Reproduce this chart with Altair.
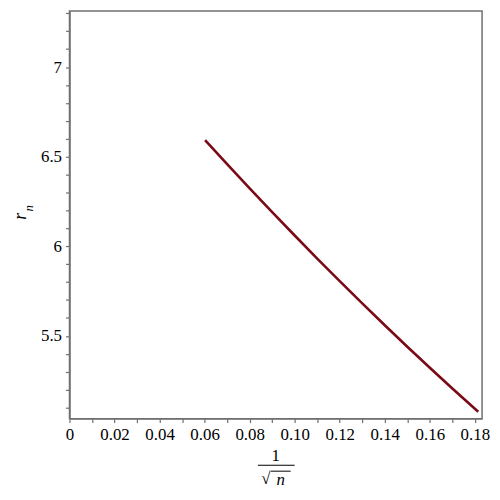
import altair as alt
import pandas as pd

# Data
x_vals = [0.0602, 0.07, 0.08, 0.09, 0.10, 0.11, 0.12, 0.13, 0.14, 0.15, 0.16, 0.17, 0.18, 0.1815]
r_vals = [6.592, 6.458, 6.323, 6.190, 6.060, 5.931, 5.805, 5.681, 5.559, 5.439, 5.322, 5.206, 5.093, 5.076]

x_ticks = [0.0, 0.01, 0.02, 0.03, 0.04, 0.05, 0.06, 0.07, 0.08, 0.09,
           0.10, 0.11, 0.12, 0.13, 0.14, 0.15, 0.16, 0.17, 0.18]
y_ticks = [5.1, 5.2, 5.3, 5.4, 5.5, 5.6, 5.7, 5.8, 5.9, 6.0, 6.1, 6.2,
           6.3, 6.4, 6.5, 6.6, 6.7, 6.8, 6.9, 7.0, 7.1, 7.2, 7.3]

df = pd.DataFrame({"x": x_vals, "r": r_vals})

FONT = "'Liberation Serif', 'Times New Roman', serif"
GRAY = "#707070"
W, H = 416, 411

x_axis = alt.Axis(
    values=x_ticks,
    labelExpr="round(datum.value*100) % 2 != 0 ? '' : (datum.value == 0 ? '0' : format(datum.value, '.2f'))",
    title=None, grid=False, tickSize=4, tickColor=GRAY, tickWidth=1.2,
    domainColor=GRAY, domainWidth=1.5, labelFont=FONT, labelFontSize=17,
    labelColor="black", labelPadding=4, labelOverlap=False, labelFlush=False,
)
y_axis = alt.Axis(
    values=y_ticks,
    labelExpr="round(datum.value*10) % 5 != 0 ? '' : format(datum.value, '')",
    title=None, grid=False, tickSize=4, tickColor=GRAY, tickWidth=1.2,
    domainColor=GRAY, domainWidth=1.5, labelFont=FONT, labelFontSize=17,
    labelColor="black", labelPadding=4, labelOverlap=False, labelFlush=False,
)

line = alt.Chart(df).mark_line(color="#7a0a16", strokeWidth=2.6).encode(
    x=alt.X("x:Q", scale=alt.Scale(domain=[0, 0.1832], nice=False, zero=False), axis=x_axis),
    y=alt.Y("r:Q", scale=alt.Scale(domain=[5.038, 7.313], nice=False, zero=False), axis=y_axis),
)

one = alt.Data(values=[{}])

def txt(s, x, y, size=17, style="normal", angle=0):
    return alt.Chart(one).mark_text(
        font=FONT, fontSize=size, fontStyle=style, angle=angle,
        align="center", baseline="middle", color="black",
    ).encode(x=alt.value(x), y=alt.value(y), text=alt.value(s))

def rule(x1, x2, y, w=1.2):
    return alt.Chart(one).mark_rule(color="black", strokeWidth=w).encode(
        x=alt.value(x1), x2=alt.value(x2), y=alt.value(y))

# origin of plot area on page: (70, 9)
ox, oy = 70, 9
titles = [
    txt("r", 21 - ox, 216 - oy, size=18, style="italic", angle=270),
    txt("n", 29 - ox, 208 - oy, size=13, style="italic", angle=270),
    txt("1", 278 - ox, 458 - oy, size=17),
    rule(260 - ox, 297 - ox, 467 - oy),
    txt("√", 268 - ox, 481 - oy, size=17),
    rule(273 - ox, 293 - ox, 473 - oy, 1.0),
    txt("n", 283 - ox, 482 - oy, size=17, style="italic"),
]

chart = alt.layer(line, *titles).properties(
    width=W, height=H,
    autosize=alt.AutoSizeParams(type="none"),
    padding={"left": 62, "top": 1, "right": 10, "bottom": 75},
).configure_view(stroke=GRAY, strokeWidth=1.5)

chart.save("out.html", embed_options={"renderer": "svg", "actions": False})
